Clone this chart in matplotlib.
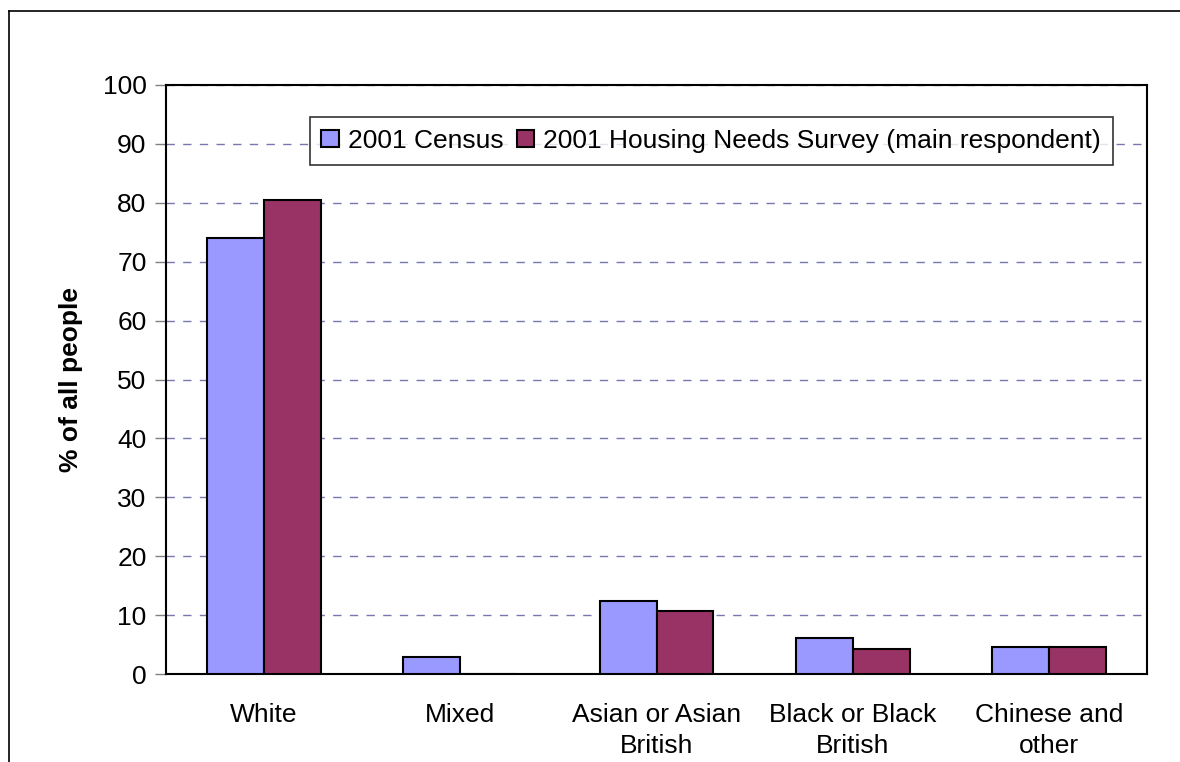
import numpy as np
import matplotlib.pyplot as plt
from matplotlib.lines import Line2D

plt.rcParams['font.family'] = ['Liberation Sans', 'DejaVu Sans']

categories = ["White", "Mixed", "Asian or Asian\nBritish", "Black or Black\nBritish", "Chinese and\nother"]
census = [74.1, 2.9, 12.4, 6.1, 4.6]
survey = [80.4, 0.0, 10.7, 4.3, 4.6]
series_names = ["2001 Census", "2001 Housing Needs Survey (main respondent)"]

W, H = 1180, 762
fs = 19
fig = plt.figure(figsize=(W / 100, H / 100), dpi=100)
ax = fig.add_axes([166 / W, 1 - 674 / H, (1147 - 166) / W, (674 - 85) / H])

x = np.arange(len(categories))
bw = 0.29
ax.bar(x - bw / 2, census, bw, color="#9999ff", edgecolor="black", linewidth=1.5,
       label=series_names[0], zorder=3)
ax.bar(x + bw / 2, survey, bw, color="#993366", edgecolor="black", linewidth=1.5,
       label=series_names[1], zorder=3)

ax.set_xlim(-0.5, len(categories) - 0.5)
ax.set_ylim(0, 100)
ax.set_yticks(range(0, 101, 10))
ax.set_xticks(x)
ax.set_xticklabels(categories, fontsize=fs, linespacing=1.35)
ax.tick_params(axis='y', labelsize=fs, length=8, width=1, color="#808080", pad=6)
ax.tick_params(axis='x', length=0, pad=21)
ax.yaxis.grid(True, linestyle=(0, (6, 6)), color="#7878b0", linewidth=1, zorder=0)
for s in ax.spines.values():
    s.set_linewidth(1.5)
    s.set_color("black")

ax.set_ylabel("% of all people", fontsize=fs, fontweight="bold", labelpad=14)

leg = ax.legend(loc="upper right", bbox_to_anchor=(0.9785, 0.968), ncol=2, fontsize=fs,
                frameon=True, fancybox=False, edgecolor="black", handlelength=0.65,
                handleheight=0.65, handletextpad=0.35, columnspacing=0.5, borderpad=0.45)
leg.get_frame().set_linewidth(1.2)

# outer frame around the chart area
fig.add_artist(Line2D([9 / W, 1.0], [1 - 11 / H, 1 - 11 / H], color="black", linewidth=1.2))
fig.add_artist(Line2D([9 / W, 9 / W], [0.0, 1 - 11 / H], color="black", linewidth=1.2))

fig.savefig("out.png", dpi=100)
